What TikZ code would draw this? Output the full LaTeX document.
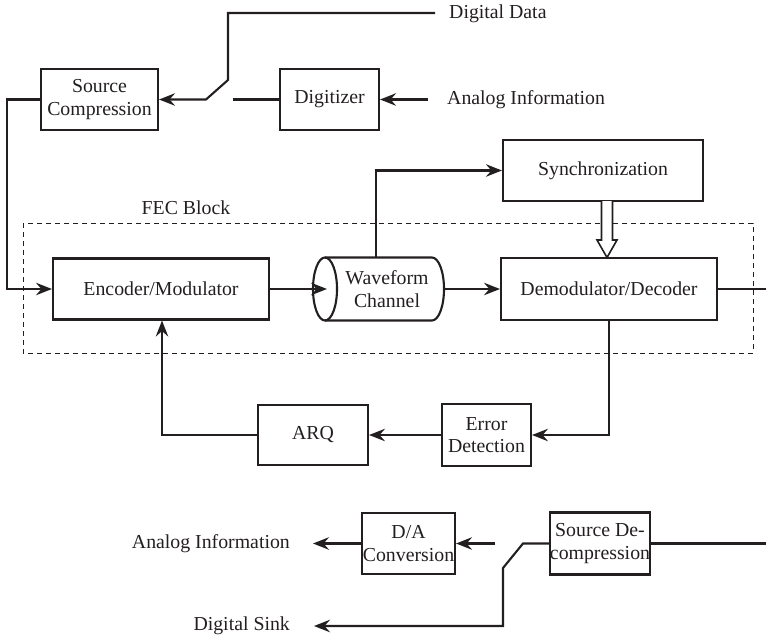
\documentclass[tikz,border=0pt]{standalone}
\usepackage{fontspec}
\setmainfont{Liberation Serif}
\usetikzlibrary{arrows.meta,calc}
\definecolor{ink}{RGB}{35,31,32}
\begin{document}
\begin{tikzpicture}[x=1pt,y=-1pt,
  every node/.style={font=\fontsize{19.8}{22.5}\selectfont, text=ink},
  box/.style={draw=ink, line width=2.1pt, align=center, inner sep=0pt},
  lbl/.style={inner sep=0pt, anchor=west},
  wire/.style={draw=ink, line width=2.1pt},
  arr/.style={wire, -{Stealth[length=16pt,width=12.5pt,inset=5.5pt]}}]
\useasboundingbox (0,0) rectangle (766,640);

% boxes
\node[box, minimum width=117pt, minimum height=61pt] (srccomp) at (99.5,99.5) {Source\\Compression};
\node[box, minimum width=99pt, minimum height=61pt] (digit) at (329.5,99.5) {Digitizer};
\node[box, minimum width=216pt, minimum height=61pt] (enc) at (161,289) {Encoder/Modulator};
\node[box, minimum width=200pt, minimum height=61pt] (sync) at (603,170.5) {Synchronization};
\node[box, minimum width=216pt, minimum height=62pt] (demod) at (609,289) {Demodulator/Decoder};
\node[box, minimum width=89pt, minimum height=62pt] (errdet) at (486.5,435) {Error\\Detection};
\node[box, minimum width=110pt, minimum height=60pt] (arq) at (313,435) {ARQ};
\node[box, minimum width=93pt, minimum height=61pt] (da) at (408.5,543.5) {D/A\\Conversion};
\node[box, minimum width=100pt, minimum height=62pt] (sdec) at (600,543.5) {Source De-\\compression};

% waveform channel (cylinder)
\draw[ink, line width=2.1pt] (325,289) ellipse [x radius=12pt, y radius=31.5pt];
\draw[ink, line width=2.1pt] (325,257.5) -- (432,257.5) arc[start angle=90, end angle=-90, x radius=12pt, y radius=31.5pt] -- (325,320.5);
\node[align=center, inner sep=0pt] (wc) at (387,289) {Waveform\\Channel};
\coordinate (wcin) at (327,289);
\coordinate (wcout) at (444,289);
\coordinate (wctop) at (376,257.5);

% text labels
\node[lbl] (ddtext) at (449,14) {Digital Data};
\node[lbl] (aitext) at (447,99.5) {Analog Information};
\node[inner sep=0pt] (fec) at (186,208) {FEC Block};
\node[lbl, anchor=east] (aotext) at (290,543.5) {Analog Information};
\node[lbl, anchor=east] (dstext) at (290,626) {Digital Sink};

% FEC dashed block
\draw[ink, line width=0.9pt, dash pattern=on 5pt off 4pt] (23,223) rectangle (753,353);

% coordinates
\coordinate (ddend) at (435,13);
\coordinate (swtop) at (228,80);
\coordinate (swpiv) at (206,99.5);
\coordinate (swright) at (233,99.5);
\coordinate (aiend) at (428,99.5);
\coordinate (lft) at (7,99.5);
\coordinate (rend1) at (766,289);
\coordinate (rend2) at (766,543.5);
\coordinate (sw2a) at (523,543.5);
\coordinate (sw2b) at (503,568);
\coordinate (dsend) at (314,626);
\coordinate (dain) at (495,543.5);
\coordinate (aoend) at (313,543.5);
\coordinate (arqx) at (162,0);

% top switch
\draw[arr] (ddend) -| (swtop) -- (swpiv) -- (srccomp.east);
\draw[wire] (digit.west) -- (swright);
\draw[arr] (aiend) -- (digit.east);
\draw[arr] (srccomp.west) -- (lft) |- (enc.west);

% main chain
\draw[arr] (enc.east) -- (wcin);
\draw[arr] (wcout) -- (demod.west);
\draw[arr] (wctop) |- (sync.west);
\draw[wire] (demod.east) -- (rend1);
\draw[arr] (demod.south) |- (errdet.east);
\draw[arr] (errdet.west) -- (arq.east);
\draw[arr] (arq.west) -| (arqx |- enc.south);

% hollow sync arrow
\draw[ink, line width=1.6pt, fill=white, line join=miter]
  (601.5,201) -- (601.5,240) -- (597,240) -- (607,257.5) -- (617,240) -- (612.5,240) -- (612.5,201);

% bottom
\draw[wire] (sdec.east) -- (rend2);
\draw[arr] (sdec.west) -- (sw2a) -- (sw2b) |- (dsend);
\draw[arr] (dain) -- (da.east);
\draw[arr] (da.west) -- (aoend);
\end{tikzpicture}
\end{document}
